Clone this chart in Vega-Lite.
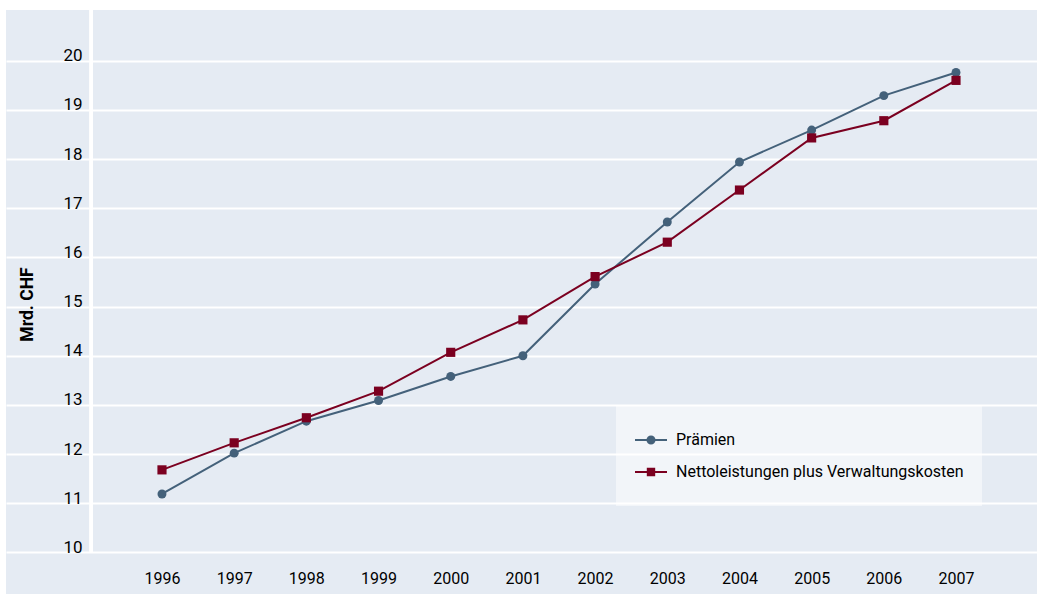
{
  "$schema": "https://vega.github.io/schema/vega-lite/v6.json",
  "width": 1031,
  "height": 584,
  "autosize": {"type": "none"},
  "padding": {"left": 6, "top": 10, "right": 0, "bottom": 0},
  "background": "#ffffff",
  "config": {
    "view": {"fill": "#e5ebf3", "stroke": null},
    "font": "Roboto"
  },
  "data": {
    "values": [
      {"year": 1996, "series": "Prämien", "value": 11.19},
      {"year": 1997, "series": "Prämien", "value": 12.02},
      {"year": 1998, "series": "Prämien", "value": 12.67},
      {"year": 1999, "series": "Prämien", "value": 13.09},
      {"year": 2000, "series": "Prämien", "value": 13.58},
      {"year": 2001, "series": "Prämien", "value": 14.0},
      {"year": 2002, "series": "Prämien", "value": 15.46},
      {"year": 2003, "series": "Prämien", "value": 16.72},
      {"year": 2004, "series": "Prämien", "value": 17.94},
      {"year": 2005, "series": "Prämien", "value": 18.59},
      {"year": 2006, "series": "Prämien", "value": 19.29},
      {"year": 2007, "series": "Prämien", "value": 19.76},
      {"year": 1996, "series": "Nettoleistungen plus Verwaltungskosten", "value": 11.68},
      {"year": 1997, "series": "Nettoleistungen plus Verwaltungskosten", "value": 12.23},
      {"year": 1998, "series": "Nettoleistungen plus Verwaltungskosten", "value": 12.74},
      {"year": 1999, "series": "Nettoleistungen plus Verwaltungskosten", "value": 13.28},
      {"year": 2000, "series": "Nettoleistungen plus Verwaltungskosten", "value": 14.07},
      {"year": 2001, "series": "Nettoleistungen plus Verwaltungskosten", "value": 14.73},
      {"year": 2002, "series": "Nettoleistungen plus Verwaltungskosten", "value": 15.61},
      {"year": 2003, "series": "Nettoleistungen plus Verwaltungskosten", "value": 16.31},
      {"year": 2004, "series": "Nettoleistungen plus Verwaltungskosten", "value": 17.37},
      {"year": 2005, "series": "Nettoleistungen plus Verwaltungskosten", "value": 18.43},
      {"year": 2006, "series": "Nettoleistungen plus Verwaltungskosten", "value": 18.78},
      {"year": 2007, "series": "Nettoleistungen plus Verwaltungskosten", "value": 19.6}
    ]
  },
  "encoding": {
    "x": {
      "field": "year",
      "type": "quantitative",
      "scale": {"domain": [1993.839, 2008.122], "nice": false, "zero": false},
      "axis": {
        "title": null,
        "values": [1996, 1997, 1998, 1999, 2000, 2001, 2002, 2003, 2004, 2005, 2006, 2007],
        "format": "d",
        "grid": false,
        "ticks": false,
        "tickSize": 0,
        "domain": false,
        "labelPadding": -10.5,
        "labelBaseline": "alphabetic",
        "labelFontSize": 16,
        "labelColor": "#000000",
        "labelFont": "Roboto"
      }
    },
    "y": {
      "field": "value",
      "type": "quantitative",
      "scale": {"domain": [9.156, 21.031], "nice": false, "zero": false},
      "axis": {
        "title": "Mrd. CHF",
        "titleFont": "Roboto",
        "titleFontSize": 17.5,
        "titleFontWeight": "bold",
        "titleColor": "#000000",
        "titleAngle": 270,
        "titleX": 21,
        "titleY": 294,
        "titleAlign": "center",
        "titleBaseline": "middle",
        "values": [10, 11, 12, 13, 14, 15, 16, 17, 18, 19, 20],
        "grid": true,
        "gridColor": "#ffffff",
        "gridWidth": 2,
        "gridOpacity": 1,
        "ticks": false,
        "tickSize": 0,
        "domain": false,
        "labelAlign": "right",
        "labelBaseline": "alphabetic",
        "labelPadding": -76,
        "labelFontSize": 17,
        "labelColor": "#000000",
        "labelFont": "Roboto"
      }
    }
  },
  "layer": [
    {
      "mark": {"type": "rule", "color": "#ffffff", "strokeWidth": 3},
      "encoding": {
        "x": {"datum": 1995.02, "type": "quantitative"},
        "y": {"datum": 21.031, "type": "quantitative"},
        "y2": {"datum": 10}
      }
    },
    {
      "transform": [{"filter": "datum.series === 'Prämien'"}],
      "mark": {"type": "line", "strokeWidth": 2, "color": "#44617a"},
      "encoding": {}
    },
    {
      "transform": [{"filter": "datum.series !== 'Prämien'"}],
      "mark": {"type": "line", "strokeWidth": 2, "color": "#7b0020"},
      "encoding": {}
    },
    {
      "transform": [{"filter": "datum.series === 'Prämien'"}],
      "mark": {"type": "point", "filled": true, "opacity": 1, "shape": "circle", "size": 80, "color": "#44617a", "strokeWidth": 0}
    },
    {
      "transform": [{"filter": "datum.series !== 'Prämien'"}],
      "mark": {"type": "point", "filled": true, "opacity": 1, "shape": "square", "size": 84, "color": "#7b0020", "strokeWidth": 0}
    },
    {
      "mark": {"type": "point", "opacity": 0},
      "encoding": {
        "fill": {
          "field": "series",
          "type": "nominal",
          "sort": null,
          "scale": {
            "domain": ["Prämien", "Nettoleistungen plus Verwaltungskosten"],
            "range": ["#44617a", "#7b0020"]
          },
          "legend": {
            "title": null,
            "orient": "none",
            "legendX": 610,
            "legendY": 396,
            "padding": 18,
            "fillColor": "rgba(255,255,255,0.5)",
            "symbolSize": 1024,
            "symbolStrokeWidth": 2,
            "symbolOpacity": 1,
            "clipHeight": 32,
            "rowPadding": -3,
            "labelOffset": 8,
            "labelFontSize": 16,
            "labelFont": "Roboto",
            "labelColor": "#000000",
            "labelLimit": 400
          }
        },
        "stroke": {
          "field": "series",
          "type": "nominal",
          "sort": null,
          "scale": {
            "domain": ["Prämien", "Nettoleistungen plus Verwaltungskosten"],
            "range": ["#44617a", "#7b0020"]
          },
          "legend": {
            "title": null,
            "orient": "none",
            "legendX": 610,
            "legendY": 396,
            "padding": 18,
            "fillColor": "rgba(255,255,255,0.5)",
            "symbolSize": 1024,
            "symbolStrokeWidth": 2,
            "symbolOpacity": 1,
            "clipHeight": 32,
            "rowPadding": -3,
            "labelOffset": 8,
            "labelFontSize": 16,
            "labelFont": "Roboto",
            "labelColor": "#000000",
            "labelLimit": 400
          }
        },
        "shape": {
          "field": "series",
          "type": "nominal",
          "sort": null,
          "scale": {
            "domain": ["Prämien", "Nettoleistungen plus Verwaltungskosten"],
            "range": [
              "M-1,0L1,0M0.22,0A0.22,0.22,0,1,1,-0.22,0A0.22,0.22,0,1,1,0.22,0Z",
              "M-1,0L1,0M-0.2,-0.2L0.2,-0.2L0.2,0.2L-0.2,0.2Z"
            ]
          },
          "legend": {
            "title": null,
            "orient": "none",
            "legendX": 610,
            "legendY": 396,
            "padding": 18,
            "fillColor": "rgba(255,255,255,0.5)",
            "symbolSize": 1024,
            "symbolStrokeWidth": 2,
            "symbolOpacity": 1,
            "clipHeight": 32,
            "rowPadding": -3,
            "labelOffset": 8,
            "labelFontSize": 16,
            "labelFont": "Roboto",
            "labelColor": "#000000",
            "labelLimit": 400
          }
        }
      }
    }
  ]
}
